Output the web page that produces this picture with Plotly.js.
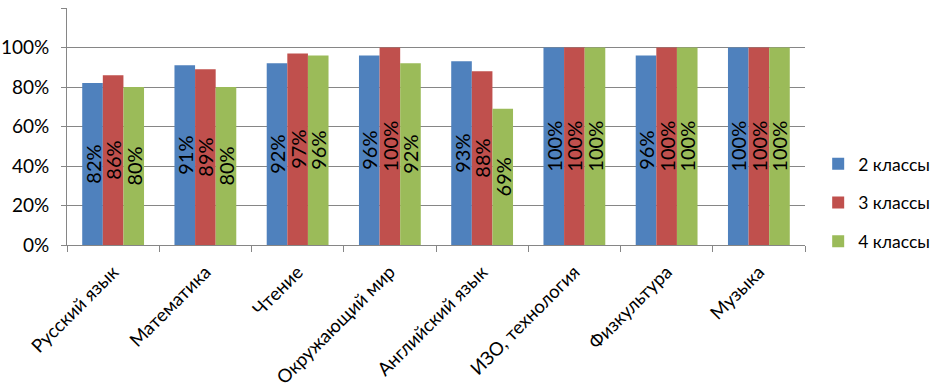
<!DOCTYPE html>
<html>
<head>
<meta charset="utf-8">
<script src="https://cdn.plot.ly/plotly-3.0.1.min.js"></script>
<style>html,body{margin:0;padding:0;background:#fff;}#chart{width:934px;height:390px;}</style>
</head>
<body>
<div id="chart"></div>
<script>
var categories = ["Русский язык", "Математика", "Чтение", "Окружающий мир", "Английский язык", "ИЗО, технология", "Физкультура", "Музыка"];
var seriesNames = ["2 классы", "3 классы", "4 классы"];
var grade2 = [0.82, 0.91, 0.92, 0.96, 0.93, 1.00, 0.96, 1.00];
var grade3 = [0.86, 0.89, 0.97, 1.00, 0.88, 1.00, 1.00, 1.00];
var grade4 = [0.80, 0.80, 0.96, 0.92, 0.69, 1.00, 1.00, 1.00];
var yTicks = [0, 0.2, 0.4, 0.6, 0.8, 1.0, 1.2];
var colors = ["#4F81BD", "#C0504D", "#9BBB59"];
var values = [grade2, grade3, grade4];

var FONT = "Lato, 'Open Sans', sans-serif";
var traces = values.map(function (v, i) {
  return {
    type: "bar",
    name: seriesNames[i],
    x: categories,
    y: v,
    marker: {color: colors[i]},
    texttemplate: "%{y:.0%}",
    textposition: "inside",
    insidetextanchor: "middle",
    textangle: -90,
    constraintext: "none",
    textfont: {family: FONT, size: 20, color: "#000"},
    legendgroup: "g" + i,
    hoverinfo: "none"
  };
});

var layout = {
  width: 934, height: 390,
  margin: {l: 67, r: 129, t: 8, b: 145, pad: 0},
  paper_bgcolor: "#fff", plot_bgcolor: "#fff",
  barmode: "group",
  bargap: 0.33, bargroupgap: 0,
  font: {family: FONT, size: 19, color: "#000"},
  xaxis: {
    type: "category",
    tickangle: -45,
    tickson: "boundaries",
    ticks: "outside", ticklen: 6, tickcolor: "#868686",
    ticklabelstandoff: 8,
    showline: true, linecolor: "#868686", linewidth: 1,
    showgrid: false,
    tickfont: {family: FONT, size: 18.5, color: "#000"}
  },
  yaxis: {
    range: [0, 1.2], tickmode: "array", tickvals: yTicks, tickformat: ".0%",
    ticks: "outside", ticklen: 5, tickcolor: "#868686",
    ticklabelstandoff: 8,
    showline: true, linecolor: "#868686", linewidth: 1,
    showgrid: true, gridcolor: "#868686", gridwidth: 1,
    zeroline: false,
    tickfont: {family: FONT, size: 19, color: "#000"}
  },
  showlegend: true,
  legend: {
    xref: "container", yref: "container",
    x: 0.876, xanchor: "left", y: 0.48, yanchor: "middle",
    traceorder: "grouped", tracegroupgap: 13,
    font: {family: FONT, size: 17.5, color: "#000"},
    itemwidth: 30
  }
};

Plotly.newPlot("chart", traces, layout, {displayModeBar: false, staticPlot: true});
</script>
</body>
</html>
